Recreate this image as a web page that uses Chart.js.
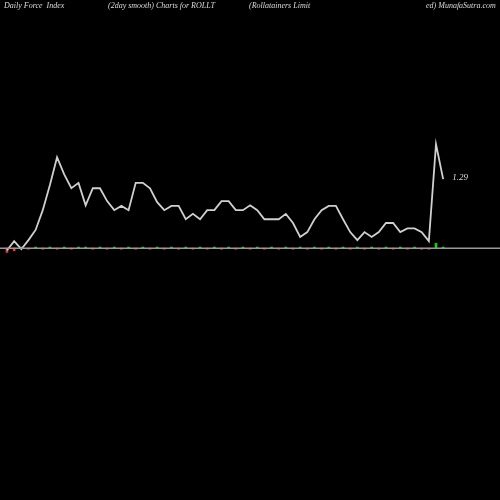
<!DOCTYPE html>
<html>
<head>
<script src="https://cdn.jsdelivr.net/npm/chart.js@4"></script>
<style>
  html, body { margin: 0; padding: 0; background: #000; }
  #wrap { width: 500px; height: 500px; }
</style>
</head>
<body>
<div id="wrap"><canvas id="fiChart"></canvas></div>
<script>
// force index, 2 day smooth
const forceIndex = [-0.04, 0.13, -0.02, 0.15, 0.34, 0.71, 1.18, 1.70, 1.38, 1.12, 1.22,
  0.80, 1.12, 1.12, 0.88, 0.71, 0.79, 0.71, 1.22, 1.22, 1.12,
  0.86, 0.71, 0.79, 0.79, 0.54, 0.64, 0.54, 0.71, 0.71, 0.88,
  0.88, 0.71, 0.71, 0.80, 0.71, 0.54, 0.54, 0.54, 0.64, 0.47,
  0.21, 0.30, 0.54, 0.71, 0.79, 0.79, 0.54, 0.30, 0.15, 0.30,
  0.21, 0.30, 0.47, 0.47, 0.30, 0.37, 0.37, 0.30, 0.13, 1.94, 1.29];
// small daily bars near zero line
const dailyBars = [-0.08, -0.05, 0.02, -0.02, 0.02, -0.02, 0.02, -0.02, 0.02, -0.02, 0.02,
  0.02, -0.02, 0.02, -0.02, 0.02, -0.02, 0.02, -0.02, 0.02, -0.02,
  0.02, -0.02, 0.02, -0.02, 0.02, -0.02, 0.02, -0.02, 0.02, -0.02,
  0.02, -0.02, 0.02, -0.02, 0.02, -0.02, 0.02, -0.02, 0.02, -0.02,
  0.02, -0.02, 0.02, -0.02, 0.02, -0.02, 0.02, -0.02, 0.02, -0.02,
  0.02, -0.02, 0.02, -0.02, 0.02, -0.02, 0.02, -0.02, -0.02, 0.09, 0.02];
const titleParts = [
  ["Daily Force  Index", 4],
  ["(2day smooth) Charts for ROLLT", 108],
  ["(Rollatainers Limit", 249],
  ["ed) MunafaSutra.com", 426]
];
const lastLabel = "1.29";

const linePts = forceIndex.map((v, i) => ({ x: i, y: v }));
const barPts = dailyBars.map((v, i) => ({ x: i, y: v }));

const textPlugin = {
  id: "texts",
  afterDraw(chart) {
    const ctx = chart.ctx;
    ctx.save();
    ctx.fillStyle = "#ddd";
    ctx.font = "italic 8px 'Liberation Serif', serif";
    ctx.textBaseline = "middle";
    titleParts.forEach(([t, x]) => ctx.fillText(t, x, 6));
    const xs = chart.scales.x, ys = chart.scales.y;
    const n = forceIndex.length - 1;
    ctx.font = "italic 9px 'Liberation Serif', serif";
    ctx.fillText(lastLabel, xs.getPixelForValue(n) + 9, ys.getPixelForValue(forceIndex[n]) - 2);
    // zero line
    const y0 = ys.getPixelForValue(0);
    ctx.strokeStyle = "#999";
    ctx.lineWidth = 1.5;
    ctx.beginPath();
    ctx.moveTo(0, y0);
    ctx.lineTo(500, y0);
    ctx.stroke();
    ctx.restore();
  }
};

new Chart(document.getElementById("fiChart"), {
  data: {
    datasets: [
      {
        type: "bar",
        data: barPts,
        backgroundColor: dailyBars.map(v => v >= 0 ? "#00dd00" : "#ff3333"),
        barThickness: 2,
        order: 2
      },
      {
        type: "line",
        data: linePts,
        borderColor: "#d0d0d0",
        borderWidth: 1.8,
        pointRadius: 0,
        tension: 0,
        order: 1
      }
    ]
  },
  options: {
    responsive: true,
    maintainAspectRatio: false,
    animation: false,
    layout: { padding: 0 },
    plugins: { legend: { display: false }, tooltip: { enabled: false } },
    scales: {
      x: { type: "linear", offset: false, min: -0.98, max: 68.95, display: false },
      y: { min: -4.71, max: 4.64, display: false }
    }
  },
  plugins: [textPlugin]
});
</script>
</body>
</html>
